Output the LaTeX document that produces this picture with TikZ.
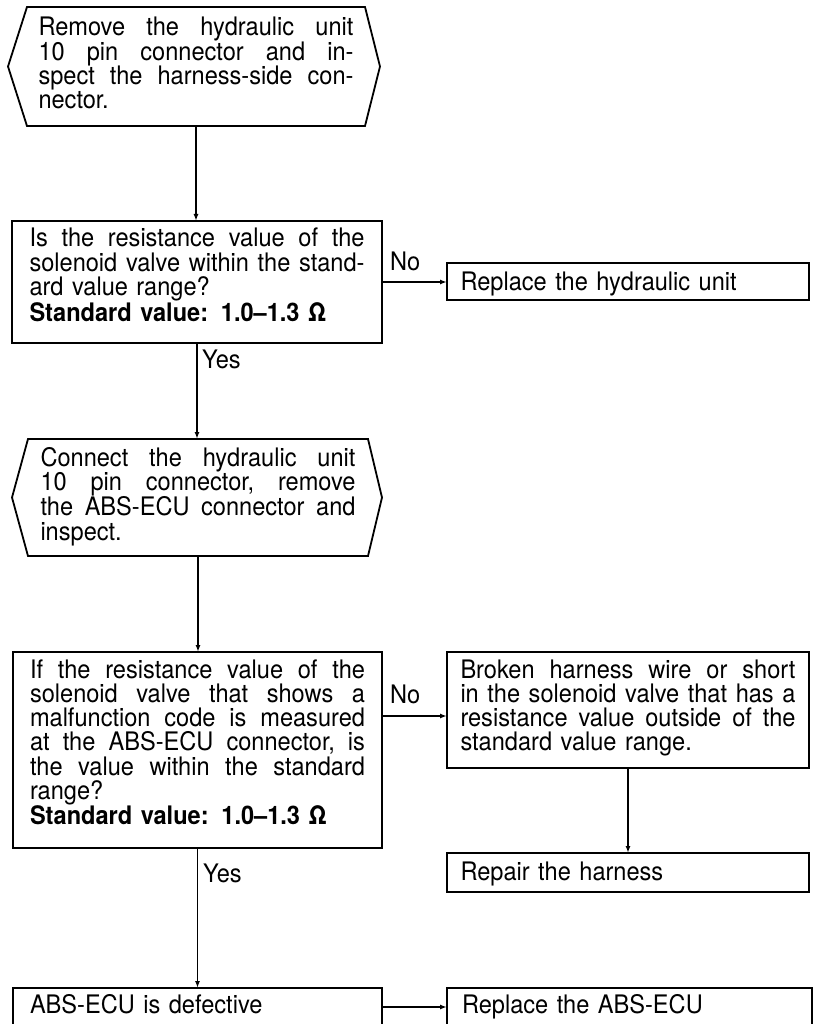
\documentclass[tikz,border=0pt]{standalone}
\usepackage{fontspec}
\setmainfont[FakeStretch=0.925,WordSpace=1.2]{TeX Gyre Heros}
\usetikzlibrary{arrows.meta,calc}
\setlength\parindent{0pt}
\newcommand\jline[1]{\leavevmode\hbox to \hsize{#1}\par}
\newcommand\hf{\hfill}
\begin{document}
\begin{tikzpicture}[x=1pt,y=-1pt,
  txt/.style={font=\fontsize{25.5}{24.3}\selectfont},
  box/.style={txt,draw,line width=1.8pt,rectangle,outer sep=0pt,inner ysep=0pt,align=left},
  hexnode/.style={txt,rectangle,outer sep=0pt,inner ysep=0pt,align=left},
  hexline/.style={line width=1.8pt,line join=miter},
  conn/.style={line width=1.5pt,-{Latex[length=7pt,width=5pt]}},
  lab/.style={txt,inner sep=0pt,anchor=base west}]
\fill[white] (0,0) rectangle (818,1024);
\useasboundingbox (0,0) rectangle (818,1024);
\clip (0,0) rectangle (818,1024);

% hexagon 1
\node[hexnode,minimum width=338,minimum height=119,text width=315,inner xsep=11.5,text height=29pt,text depth=90pt] (h1) at (196,66.5)
 {\jline{Remove\hf{} the\hf{} hydraulic\hf{} unit}\jline{10\hf{} pin\hf{} connector\hf{} and\hf{} in-}\jline{spect\hf{} the\hf{} harness-side\hf{} con-}nector.};
\draw[hexline] (h1.north west) -- (h1.north east) -- ([xshift=15pt]h1.east) -- (h1.south east)
  -- (h1.south west) -- ([xshift=-19pt]h1.west) -- cycle;

% box 2
\node[box,minimum width=370,minimum height=122,text width=335,inner xsep=17.5,text height=26pt,text depth=96pt] (b2) at (197,282)
 {\jline{Is\hf{} the\hf{} resistance\hf{} value\hf{} of\hf{} the}\jline{solenoid\hf{} valve\hf{} within\hf{} the\hf{} stand-}ard value range?\par\textbf{Standard value: 1.0–1.3 Ω}};

% box 3
\node[box,minimum width=362,minimum height=37,text width=335,inner xsep=13.5,text height=27pt,text depth=10pt] (b3) at (628,281.5)
 {Replace the hydraulic unit};

% hexagon 2
\node[hexnode,minimum width=340,minimum height=117,text width=315,inner xsep=12.5,text height=27pt,text depth=90pt] (h2) at (198,497.5)
 {\jline{Connect\hf{} the\hf{} hydraulic\hf{} unit}\jline{10\hf{} pin\hf{} connector,\hf{} remove}\jline{the\hf{} ABS-ECU\hf{} connector\hf{} and}inspect.};
\draw[hexline] (h2.north west) -- (h2.north east) -- ([xshift=14pt]h2.east) -- (h2.south east)
  -- (h2.south west) -- ([xshift=-16pt]h2.west) -- cycle;

% box 4
\node[box,minimum width=369,minimum height=196,text width=335,inner xsep=17,text height=26pt,text depth=170pt] (b4) at (197.5,750)
 {\jline{If\hf{} the\hf{} resistance\hf{} value\hf{} of\hf{} the}\jline{solenoid\hf{} valve\hf{} that\hf{} shows\hf{} a}\jline{malfunction\hf{} code\hf{} is\hf{} measured}\jline{at\hf{} the\hf{} ABS-ECU\hf{} connector,\hf{} is}\jline{the\hf{} value\hf{} within\hf{} the\hf{} standard}range?\par\textbf{Standard value: 1.0–1.3 Ω}};

% box 5
\node[box,minimum width=362,minimum height=116,text width=335,inner xsep=13.5,text height=26pt,text depth=90pt] (b5) at (628,710)
 {\jline{Broken\hf{} harness\hf{} wire\hf{} or\hf{} short}\jline{in\hf{} the\hf{} solenoid\hf{} valve\hf{} that\hf{} has\hf{} a}\jline{resistance\hf{} value\hf{} outside\hf{} of\hf{} the}standard value range.};

% box 6
\node[box,minimum width=362,minimum height=39,text width=335,inner xsep=13.5,text height=27pt,text depth=12pt] (b6) at (628,872.5)
 {Repair the harness};

% box 7
\node[box,minimum width=369,minimum height=38,text width=335,inner xsep=17,text height=25pt,text depth=13pt] (b7) at (197.5,1007)
 {ABS-ECU is defective};

% box 8
\node[box,minimum width=365,minimum height=38,text width=335,inner xsep=15,text height=25pt,text depth=13pt] (b8) at (629.5,1007)
 {Replace the ABS-ECU};

% labels
\node[lab] (no1) at (390,270) {No};
\node[lab] (yes1) at (202,368) {Yes};
\node[lab] (no2) at (390,703) {No};
\node[lab] (yes2) at (203,882) {Yes};

% connectors
\draw[conn] (h1.south) -- (h1.south |- b2.north);
\draw[conn] (b2.east) -- (b2.east -| b3.west);
\draw[conn] (b2.south) -- (b2.south |- h2.north);
\draw[conn] (h2.south) -- (h2.south |- b4.north);
\coordinate (m5) at ([yshift=-6pt]b5.west);
\draw[conn] (b4.east |- m5) -- (m5);
\draw[conn] (b5.south) -- (b5.south |- b6.north);
\draw[conn] (b4.south) -- (b4.south |- b7.north);
\draw[conn] (b7.east) -- (b7.east -| b8.west);
\end{tikzpicture}
\end{document}
